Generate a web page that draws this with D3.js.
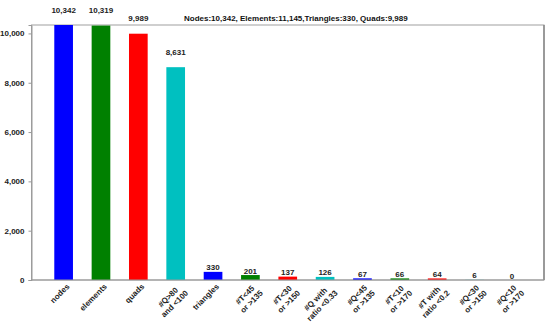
<!DOCTYPE html>
<html>
<head>
<meta charset="utf-8">
<script src="https://cdn.jsdelivr.net/npm/d3@7"></script>
<style>
body { margin: 0; background: #fff; }
text { font-family: "Liberation Sans", Arial, sans-serif; font-weight: bold; }
</style>
</head>
<body>
<div id="chart"></div>
<script>
// data
var categories = ["nodes", "elements", "quads", "#Q>80\nand <100", "triangles", "#T<45\nor >135",
    "#T<30\nor >150", "#Q with\nratio <0.33", "#Q<45\nor >135", "#T<10\nor >170",
    "#T with\nratio <0.2", "#Q<30\nor >150", "#Q<10\nor >170"];
var counts = [10342, 10319, 9989, 8631, 330, 201, 137, 126, 67, 66, 64, 6, 0];
var barColors = ["#0000ff", "#008000", "#ff0000", "#00c0c0"];
var yTicks = [0, 2000, 4000, 6000, 8000, 10000];
var title = "Nodes:10,342, Elements:11,145,Triangles:330, Quads:9,989";

var width = 550, height = 323;
var margin = {top: 25, right: 6, bottom: 43, left: 31.5};

var svg = d3.select("#chart")
    .append("svg")
    .attr("width", width)
    .attr("height", height);

var x = d3.scaleBand()
    .domain(categories)
    .range([margin.left, width - margin.right])
    .paddingInner(0.5)
    .paddingOuter(0.61);

var y = d3.scaleLinear()
    .domain([0, 10342])
    .range([height - margin.bottom, margin.top]);

// frame
svg.append("rect")
    .attr("x", margin.left)
    .attr("y", margin.top)
    .attr("width", width - margin.right - margin.left)
    .attr("height", height - margin.bottom - margin.top)
    .style("fill", "none")
    .style("stroke", "#a0a0a0")
    .style("stroke-width", 1);

// right edge is a bit darker
svg.append("line")
    .attr("x1", width - margin.right)
    .attr("x2", width - margin.right)
    .attr("y1", margin.top)
    .attr("y2", height - margin.bottom)
    .style("stroke", "#888")
    .style("stroke-width", 1.5);

// bars
svg.selectAll(".bar")
    .data(counts)
    .enter()
    .append("rect")
    .attr("class", "bar")
    .attr("x", function(d, i) { return x(categories[i]); })
    .attr("y", function(d) { return y(d); })
    .attr("width", x.bandwidth())
    .attr("height", function(d) { return y(0) - y(d); })
    .style("fill", function(d, i) { return barColors[i % 4]; });

// y axis
var yAxis = svg.append("g")
    .attr("transform", "translate(" + margin.left + ",0)")
    .call(d3.axisLeft(y).tickValues(yTicks).tickFormat(d3.format(",")).tickSize(3).tickPadding(4));
yAxis.select(".domain").style("stroke", "#999");
yAxis.selectAll(".tick line").style("stroke", "#999");
yAxis.selectAll("text").style("font-size", "8px").style("fill", "#222");

// bottom line
svg.append("line")
    .attr("x1", margin.left)
    .attr("x2", width - margin.right)
    .attr("y1", y(0))
    .attr("y2", y(0))
    .style("stroke", "#999");

// value labels
svg.selectAll(".val")
    .data(counts)
    .enter()
    .append("text")
    .attr("class", "val")
    .attr("x", function(d, i) { return x(categories[i]) + x.bandwidth() / 2; })
    .attr("y", function(d) { return y(d) - (d > 1000 ? 12.5 : 1.5); })
    .attr("text-anchor", "middle")
    .style("font-size", "8px")
    .style("fill", "#222")
    .text(function(d) { return d3.format(",")(d); });

// x labels, rotated, lines centred in the block
categories.forEach(function(c, i) {
    var cx = x(c) + x.bandwidth() / 2;
    var g = svg.append("g")
        .attr("transform", "translate(" + (cx + 6.5) + "," + (y(0) + 7) + ") rotate(-45)");
    var t = g.append("text")
        .style("font-size", "8px")
        .style("fill", "#222")
        .attr("text-anchor", "middle");
    var lines = c.split("\n");
    lines.forEach(function(l, j) {
        t.append("tspan").attr("x", 0).attr("dy", j === 0 ? 0 : "1.15em").text(l);
    });
    var maxW = 0;
    t.selectAll("tspan").each(function() {
        maxW = Math.max(maxW, this.getComputedTextLength());
    });
    t.selectAll("tspan").attr("x", -maxW / 2);
});

// title
svg.append("text")
    .attr("x", 184)
    .attr("y", 21)
    .style("font-size", "8px")
    .style("fill", "#111")
    .text(title);
</script>
</body>
</html>
